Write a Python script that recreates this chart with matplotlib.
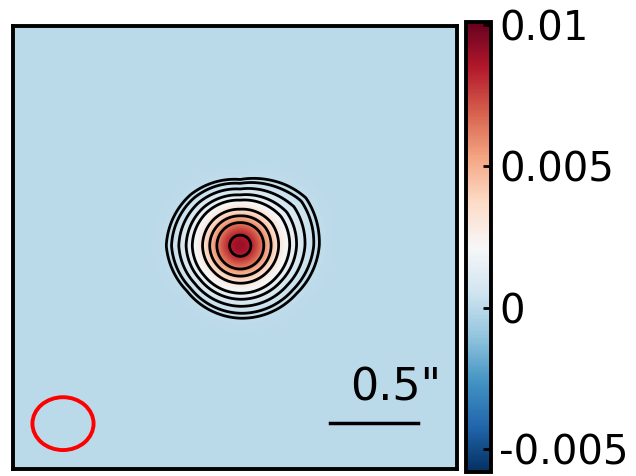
import numpy as np
import matplotlib
matplotlib.use("Agg")
import matplotlib.pyplot as plt
from matplotlib.patches import Ellipse

# map extent (arcsec) and colour scale
half_width = 1.26
vmin, vmax = -0.0058, 0.0101
cbar_ticks = [-0.005, 0, 0.005, 0.01]
cbar_labels = ['-0.005', '0', '0.005', '0.01']

# source: peak flux, centre (arcsec), gaussian width (arcsec)
peak = 0.009
src_x, src_y = 0.03, 0.01
src_sigma = 0.15

# outer-contour shape: angle (deg) -> radius factor
shape_angles = [0, 36, 90, 134, 180, 220, 270, 320]
shape_factors = [1.08, 1.11, 0.88, 0.97, 1.01, 0.95, 0.99, 1.01]
outer_radius = 0.42

contour_levels = [0.000194, 0.000325, 0.000627, 0.00113, 0.00176,
                  0.00327, 0.00463, 0.00609, 0.0083]

# beam (arcsec)
beam_x, beam_y = -0.976, -1.0
beam_w, beam_h = 0.347, 0.30

# scale bar
bar_x0, bar_x1, bar_y = 0.541, 1.041, -0.996
bar_label = '0.5"'

# build the map
n = 300
xs = np.linspace(-half_width, half_width, n)
X, Y = np.meshgrid(xs, xs)
dx, dy = X - src_x, Y - src_y
r = np.hypot(dx, dy)
theta = np.degrees(np.arctan2(dy, dx)) % 360
ang = np.array(shape_angles + [360])
fac = np.array(shape_factors + [shape_factors[0]])
F = np.interp(theta, ang, fac)
w = np.clip(r / outer_radius, 0, 1) ** 2
r_eff = r / (1 + (F - 1) * w)
img = peak * np.exp(-r_eff ** 2 / (2 * src_sigma ** 2))

fig = plt.figure(figsize=(6.36, 4.76), dpi=100)
ax = fig.add_axes([0.0204, 0.0126, 0.698, 0.935])
im = ax.imshow(img, origin='lower', cmap='RdBu_r', vmin=vmin, vmax=vmax,
               extent=[-half_width, half_width, -half_width, half_width],
               interpolation='bilinear')
ax.contour(X, Y, img, levels=contour_levels, colors='k', linewidths=2.0)

ax.add_patch(Ellipse((beam_x, beam_y), beam_w, beam_h, fill=False,
                     edgecolor='red', linewidth=2.8))
ax.plot([bar_x0, bar_x1], [bar_y, bar_y], color='k', linewidth=2.5)
ax.text(0.91, -0.92, bar_label, ha='center', va='bottom', fontsize=32)

ax.set_xlim(-half_width, half_width)
ax.set_ylim(-half_width, half_width)
ax.set_xticks([])
ax.set_yticks([])
for sp in ax.spines.values():
    sp.set_linewidth(2.8)

cax = fig.add_axes([0.733, 0.0084, 0.039, 0.946])
cb = fig.colorbar(im, cax=cax, ticks=cbar_ticks)
cb.ax.set_yticklabels(cbar_labels)
cb.ax.tick_params(direction='in', length=6, width=2, labelsize=29, pad=6)
cb.outline.set_linewidth(2.8)

fig.savefig('out.png', dpi=100)
